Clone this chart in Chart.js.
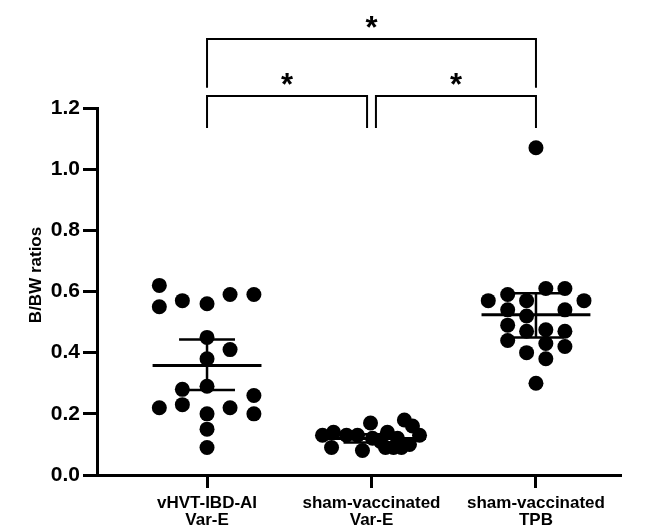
<!DOCTYPE html>
<html>
<head>
<meta charset="utf-8">
<script src="https://cdn.jsdelivr.net/npm/chart.js@4.4.1/dist/chart.umd.min.js"></script>
<style>
    body { margin: 0; background: #fff; }
    #wrap { width: 645px; height: 532px; position: relative; }
</style>
</head>
<body>
<div id="wrap"><canvas id="ratioChart"></canvas></div>
<script>
"use strict"

// group positions on the x axis and their labels
const groupPos = [1, 2, 3];
const groupLabels = [["vHVT-IBD-AI", "Var-E"], ["sham-vaccinated", "Var-E"], ["sham-vaccinated", "TPB"]];

// B/BW ratios, with the horizontal scatter of each dot
const vhvtValues  = [0.62, 0.55, 0.57, 0.56, 0.59, 0.59, 0.45, 0.41, 0.38, 0.29, 0.28, 0.26, 0.22, 0.23, 0.22, 0.20, 0.20, 0.15, 0.09];
const vhvtOffsets = [-0.29, -0.29, -0.15, 0, 0.14, 0.285, 0, 0.14, 0, 0, -0.15, 0.285, -0.29, -0.15, 0.14, 0.285, 0, 0, 0];

const shamVarEValues  = [0.13, 0.09, 0.14, 0.13, 0.13, 0.08, 0.17, 0.12, 0.14, 0.09, 0.09, 0.09, 0.10, 0.18, 0.16, 0.13, 0.12, 0.11];
const shamVarEOffsets = [-0.298, -0.243, -0.231, -0.152, -0.085, -0.055, -0.006, 0.006, 0.097, 0.085, 0.134, 0.182, 0.231, 0.2, 0.249, 0.292, 0.158, 0.055];

const shamTpbValues  = [0.57, 0.59, 0.54, 0.49, 0.44, 0.57, 0.52, 0.47, 0.40, 0.61, 0.475, 0.43, 0.38, 0.61, 0.54, 0.47, 0.42, 0.57, 0.30, 1.07];
const shamTpbOffsets = [-0.29, -0.172, -0.172, -0.172, -0.172, -0.057, -0.057, -0.057, -0.057, 0.06, 0.06, 0.06, 0.06, 0.176, 0.176, 0.176, 0.176, 0.292, 0, 0];

// mean and error bar ends
const groupMeans = [0.358, 0.119, 0.524];
const errLow     = [0.278, 0.106, 0.450];
const errHigh    = [0.443, 0.133, 0.594];

// significance comparisons [from, to, mark]
const comparisons = [[1, 3, "*"], [1, 2, "*"], [2, 3, "*"]];

const yTicks = [0, 0.2, 0.4, 0.6, 0.8, 1.0, 1.2];

const FONT = "'Liberation Sans', Arial, sans-serif";

let makePoints = function (pos, values, offsets) {
    return values.map((v, i) => ({ x: pos + offsets[i], y: v }));
}

let groups = [
    makePoints(groupPos[0], vhvtValues, vhvtOffsets),
    makePoints(groupPos[1], shamVarEValues, shamVarEOffsets),
    makePoints(groupPos[2], shamTpbValues, shamTpbOffsets)
];

let datasets = [];

groups.forEach(function (pts) {
    datasets.push({
        type: 'scatter',
        data: pts,
        backgroundColor: '#000',
        borderWidth: 0,
        pointRadius: 7.5,
        order: 2,
        clip: false
    });
});

groupPos.forEach(function (g, i) {
    // mean line
    datasets.push({
        type: 'line',
        data: [{ x: g - 0.331, y: groupMeans[i] }, { x: g + 0.331, y: groupMeans[i] }],
        borderColor: '#000',
        borderWidth: 3,
        pointRadius: 0,
        order: 1,
        clip: false
    });
    // error bar (caps + stem), nulls break the line
    datasets.push({
        type: 'line',
        data: [
            { x: g - 0.17, y: errHigh[i] }, { x: g + 0.17, y: errHigh[i] }, { x: g, y: null },
            { x: g, y: errHigh[i] }, { x: g, y: errLow[i] }, { x: g + 0.01, y: null },
            { x: g - 0.17, y: errLow[i] }, { x: g + 0.17, y: errLow[i] }
        ],
        borderColor: '#000',
        borderWidth: 2.5,
        pointRadius: 0,
        spanGaps: false,
        order: 1,
        clip: false
    });
});

// brackets with stars above the plot
const bracketPlugin = {
    id: 'brackets',
    afterDraw: function (chart) {
        const ctx = chart.ctx;
        const xs = chart.scales.x;
        const ys = chart.scales.y;
        ctx.save();
        ctx.strokeStyle = '#000';
        ctx.lineWidth = 2;
        ctx.fillStyle = '#000';
        ctx.font = "bold 31px " + FONT;
        ctx.textAlign = 'center';
        ctx.textBaseline = 'alphabetic';
        comparisons.forEach(function (c) {
            const wide = (c[1] - c[0]) > 1;
            let top = wide ? 1.426 : 1.239;
            let bottom = wide ? 1.266 : 1.135;
            let x1 = xs.getPixelForValue(c[0] === 2 ? c[0] + 0.027 : c[0]);
            let x2 = xs.getPixelForValue(c[1] === 2 ? c[1] - 0.027 : c[1]);
            let yt = ys.getPixelForValue(top);
            let yb = ys.getPixelForValue(bottom);
            ctx.beginPath();
            ctx.moveTo(x1, yb);
            ctx.lineTo(x1, yt);
            ctx.lineTo(x2, yt);
            ctx.lineTo(x2, yb);
            ctx.stroke();
            ctx.fillText(c[2], (x1 + x2) / 2, yt - 1);
        });
        ctx.restore();
    }
};

const ctx = document.getElementById('ratioChart').getContext('2d');
let ratioChart = new Chart(ctx, {
    type: 'scatter',
    data: { datasets: datasets },
    plugins: [bracketPlugin],
    options: {
        responsive: true,
        maintainAspectRatio: false,
        animation: false,
        layout: { padding: { top: 108, right: 24, left: 0, bottom: 0 } },
        plugins: {
            legend: { display: false },
            tooltip: { enabled: false }
        },
        scales: {
            x: {
                type: 'linear',
                min: 0.331,
                max: 3.517,
                afterFit: function (scale) { scale.height = 57; },
                afterBuildTicks: function (axis) {
                    axis.ticks = groupPos.map(v => ({ value: v }));
                },
                grid: {
                    display: true,
                    drawOnChartArea: false,
                    drawTicks: true,
                    tickLength: 13,
                    tickWidth: 3,
                    tickColor: '#000'
                },
                border: { display: true, color: '#000', width: 3 },
                ticks: {
                    color: '#000',
                    padding: 6,
                    maxRotation: 0,
                    autoSkip: false,
                    font: { family: FONT, size: 17, weight: 'bold', lineHeight: 1.05 },
                    callback: function (value) {
                        let i = groupPos.indexOf(value);
                        return i >= 0 ? groupLabels[i] : '';
                    }
                }
            },
            y: {
                min: 0,
                max: 1.2,
                afterFit: function (scale) { scale.width = 97; },
                afterBuildTicks: function (axis) {
                    axis.ticks = yTicks.map(v => ({ value: v }));
                },
                grid: {
                    display: true,
                    drawOnChartArea: false,
                    drawTicks: true,
                    tickLength: 14,
                    tickWidth: 3,
                    tickColor: '#000'
                },
                border: { display: true, color: '#000', width: 3 },
                ticks: {
                    color: '#000',
                    padding: 3,
                    font: { family: FONT, size: 21, weight: 'bold' },
                    callback: function (value) { return value.toFixed(1); }
                },
                title: {
                    display: true,
                    // leading spaces nudge the rotated title upwards
                    text: '       B/BW ratios',
                    color: '#000',
                    padding: { top: 26, bottom: 0 },
                    font: { family: FONT, size: 17, weight: 'bold' }
                }
            }
        }
    }
});
</script>
</body>
</html>
